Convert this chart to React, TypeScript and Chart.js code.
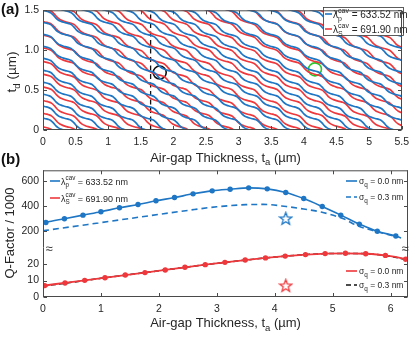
import React, { useEffect, useRef } from 'react';
import { Chart, registerables } from 'chart.js';
Chart.register(...registerables);

const FONT = '"Liberation Sans", Arial, Helvetica, sans-serif';
const TXT = '#262626';
const AXIS = '#4a4a4a';
const BLUE = 'rgb(30,118,196)';
const RED = 'rgb(238,56,60)';

// ---------- Panel (a) ----------
const aXTicks = [0, 0.5, 1, 1.5, 2, 2.5, 3, 3.5, 4, 4.5, 5, 5.5];
const aYTicks = [0, 0.5, 1, 1.5];
const bluePeriodTa = 0.3168; // λp/2 (µm)
const blueStepTd = 0.15;
const redPeriodTa = 0.346; // λs/2 (µm)
const redStepTd = 0.164;
// one wiggle period of a mode line (fraction of period)
const wiggleU = [0, 0.125, 0.25, 0.375, 0.5, 0.625, 0.75, 0.875, 1.0];
const wiggleV = [0, 0.056, 0.113, 0.2, 0.4, 0.65, 0.825, 0.925, 1.0];
const blueStarts = [-0.15, 0.0, 0.15, 0.3, 0.45, 0.6, 0.75, 0.9, 1.05, 1.2, 1.35, 1.5, 1.65, 1.8, 1.95, 2.1, 2.25, 2.4, 2.55, 2.7, 2.85, 3.0, 3.15, 3.3, 3.45, 3.6, 3.75, 3.9, 4.05, 4.2];
const redStarts = [-0.12, 0.04, 0.21, 0.37, 0.54, 0.7, 0.86, 1.03, 1.19, 1.36, 1.52, 1.68, 1.85, 2.01, 2.18, 2.34, 2.5, 2.67, 2.83, 3.0, 3.16, 3.32, 3.49, 3.65, 3.82, 3.98, 4.14, 4.31];
const dashLineTa = 1.65;
const blackCircle = { x: 1.79, y: 0.72 };
const greenCircle = { x: 4.17, y: 0.76 };

// ---------- Panel (b) ----------
const bXTicks = [0, 1, 2, 3, 4, 5, 6];
const qHighTicks = [200, 400, 600];
const qLowTicks = [0, 10, 20];
const blueSolidTa = [0, 0.05, 0.37, 0.69, 1.0, 1.32, 1.64, 1.95, 2.27, 2.59, 2.92, 3.23, 3.55, 3.87, 4.19, 4.5, 4.82, 5.14, 5.46, 5.77, 6.09, 6.18];
const blueSolidQ = [262, 269, 299, 328, 355, 387, 413, 443, 469, 499, 523, 536, 547, 539, 510, 461, 397, 328, 256, 198, 160, 145];
const blueDashTa = [0, 0.5, 1.0, 1.5, 2.0, 2.5, 3.0, 3.5, 3.8, 4.2, 4.5, 4.8, 5.2, 5.43, 5.77, 6.12];
const blueDashQ = [202, 235, 268, 301, 334, 366, 395, 412, 414, 397, 377, 353, 296, 242, 195, 152];
const redSolidTa = [0, 0.03, 0.38, 0.72, 1.07, 1.42, 1.76, 2.11, 2.45, 2.8, 3.14, 3.49, 3.84, 4.18, 4.53, 4.87, 5.22, 5.57, 5.91, 6.26, 6.3];
const redSolidQ = [6.6, 6.9, 8.5, 10.1, 11.7, 13.3, 14.8, 16.4, 18.0, 19.6, 21.0, 22.4, 23.7, 24.8, 25.7, 26.3, 26.5, 26.2, 25.2, 22.9, 22.5];
const blackDashTa = [0, 0.5, 1.0, 1.5, 2.0, 2.5, 3.0, 3.5, 4.0, 4.5, 5.0, 5.5, 6.0, 6.3];
const blackDashQ = [6.6, 8.9, 11.3, 13.6, 15.9, 18.2, 20.4, 22.4, 24.2, 25.6, 26.4, 26.3, 24.6, 22.4];
const starTa = 4.19;
const blueStarQ = 301;
const redStarQ = 6.9;

// ---------- helpers ----------
type Part = { t: string; s: number; dy?: number; bold?: boolean } | { sup: string; sub: string; s: number; supDy: number; subDy: number };

function font(s: number, bold?: boolean) {
  return `${bold ? 'bold ' : ''}${s}px ${FONT}`;
}
function richWidth(ctx: CanvasRenderingContext2D, parts: Part[]) {
  let w = 0;
  for (const p of parts) {
    if ('sup' in p) {
      ctx.font = font(p.s);
      w += Math.max(ctx.measureText(p.sup).width, ctx.measureText(p.sub).width);
    } else {
      ctx.font = font(p.s, p.bold);
      w += ctx.measureText(p.t).width;
    }
  }
  return w;
}
function drawRich(ctx: CanvasRenderingContext2D, x: number, y: number, parts: Part[], align: 'left' | 'center' = 'left', color = TXT) {
  ctx.save();
  ctx.fillStyle = color;
  ctx.textAlign = 'left';
  ctx.textBaseline = 'alphabetic';
  let cx = align === 'center' ? x - richWidth(ctx, parts) / 2 : x;
  for (const p of parts) {
    if ('sup' in p) {
      ctx.font = font(p.s);
      const w1 = ctx.measureText(p.sup).width;
      const w2 = ctx.measureText(p.sub).width;
      ctx.fillText(p.sup, cx, y + p.supDy);
      ctx.fillText(p.sub, cx, y + p.subDy);
      cx += Math.max(w1, w2);
    } else {
      ctx.font = font(p.s, p.bold);
      ctx.fillText(p.t, cx, y + (p.dy || 0));
      cx += ctx.measureText(p.t).width;
    }
  }
  ctx.restore();
}
function lambdaParts(sub: string, value: string, s: number): Part[] {
  return [
    { t: 'λ', s },
    { sup: 'cav', sub, s: s * 0.7, supDy: -s * 0.45, subDy: s * 0.32 },
    { t: ' = ' + value, s },
  ];
}
function sigmaParts(value: string, s: number): Part[] {
  return [{ t: 'σ', s }, { t: 'q', s: s * 0.75, dy: s * 0.3 }, { t: ' = ' + value, s }];
}
function legendLine(ctx: CanvasRenderingContext2D, x1: number, x2: number, y: number, color: string, dash: number[] = []) {
  ctx.save();
  ctx.strokeStyle = color;
  ctx.lineWidth = 1.6;
  ctx.setLineDash(dash);
  ctx.beginPath();
  ctx.moveTo(x1, y);
  ctx.lineTo(x2, y);
  ctx.stroke();
  ctx.restore();
}

function buildModeLine(startTd: number, periodTa: number, stepTd: number) {
  const pts: { x: number; y: number }[] = [];
  for (let j = -1; j < 60; j++) {
    const x0 = j * periodTa;
    const y0 = startTd - j * stepTd;
    if (x0 > 5.7 || y0 < -0.3) break;
    wiggleU.forEach((u, k) => {
      if (k === 0 && pts.length) return;
      pts.push({ x: x0 + u * periodTa, y: y0 - wiggleV[k] * stepTd });
    });
  }
  return pts;
}

function makeStar(color: string) {
  const c = document.createElement('canvas');
  c.width = 15;
  c.height = 15;
  const g = c.getContext('2d')!;
  g.strokeStyle = color;
  g.lineWidth = 1.3;
  g.beginPath();
  for (let i = 0; i < 10; i++) {
    const r = i % 2 === 0 ? 6.5 : 2.7;
    const a = -Math.PI / 2 + (i * Math.PI) / 5;
    const px = 7.5 + r * Math.cos(a);
    const py = 8 + r * Math.sin(a);
    if (i === 0) g.moveTo(px, py);
    else g.lineTo(px, py);
  }
  g.closePath();
  g.stroke();
  return c;
}

function framePlugin(id: string, sides: { top: boolean; bottom: boolean; left: boolean; right: boolean }) {
  return {
    id,
    afterDraw(chart: any) {
      const { ctx, chartArea } = chart;
      const L = Math.round(chartArea.left) + 0.5;
      const R = Math.round(chartArea.right) - 0.5;
      const T = chartArea.top + 0.5;
      const B = chartArea.bottom - 0.5;
      ctx.save();
      ctx.strokeStyle = AXIS;
      ctx.lineWidth = 1;
      ctx.beginPath();
      if (sides.left) { ctx.moveTo(L, chartArea.top); ctx.lineTo(L, chartArea.bottom); }
      if (sides.right) { ctx.moveTo(R, chartArea.top); ctx.lineTo(R, chartArea.bottom); }
      if (sides.top) { ctx.moveTo(L - 0.5, T); ctx.lineTo(R + 0.5, T); }
      if (sides.bottom) { ctx.moveTo(L - 0.5, B); ctx.lineTo(R + 0.5, B); }
      const xs = chart.scales.x;
      const ys = chart.scales.y;
      const tl = 3.5;
      for (const t of xs.ticks) {
        const px = Math.round(xs.getPixelForValue(t.value)) + 0.5;
        if (sides.bottom) { ctx.moveTo(px, B); ctx.lineTo(px, B - tl); }
        if (sides.top) { ctx.moveTo(px, T); ctx.lineTo(px, T + tl); }
      }
      for (const t of ys.ticks) {
        const py = Math.round(ys.getPixelForValue(t.value)) + 0.5;
        ctx.moveTo(L, py); ctx.lineTo(L + tl, py);
        ctx.moveTo(R, py); ctx.lineTo(R - tl, py);
      }
      ctx.stroke();
      ctx.restore();
    },
  };
}

function xyData(xs: number[], ys: number[]) {
  return xs.map((x, i) => ({ x, y: ys[i] }));
}

function tickFont(size = 10.5) {
  return { family: FONT, size };
}

// ---------- chart configs ----------
function configA(): any {
  const datasets: any[] = [];
  blueStarts.forEach((s) =>
    datasets.push({ data: buildModeLine(s, bluePeriodTa, blueStepTd), borderColor: BLUE, borderWidth: 1.7, showLine: true, pointRadius: 0, cubicInterpolationMode: 'monotone' })
  );
  redStarts.forEach((s) =>
    datasets.push({ data: buildModeLine(s, redPeriodTa, redStepTd), borderColor: RED, borderWidth: 1.7, showLine: true, pointRadius: 0, cubicInterpolationMode: 'monotone' })
  );
  datasets.push({ data: [{ x: dashLineTa, y: 0 }, { x: dashLineTa, y: 1.5 }], borderColor: '#111', borderWidth: 1.3, borderDash: [5, 3.5], showLine: true, pointRadius: 0 });
  datasets.push({ data: [blackCircle], showLine: false, pointStyle: 'circle', pointRadius: 6.5, borderWidth: 1.6, borderColor: '#111', backgroundColor: 'rgba(0,0,0,0)' });
  datasets.push({ data: [greenCircle], showLine: false, pointStyle: 'circle', pointRadius: 6.5, borderWidth: 1.6, borderColor: 'rgb(40,200,40)', backgroundColor: 'rgba(0,0,0,0)' });

  const overlay = {
    id: 'overlayA',
    afterDatasetsDraw(chart: any) {
      const ctx = chart.ctx as CanvasRenderingContext2D;
      ctx.save();
      ctx.fillStyle = '#fff';
      ctx.strokeStyle = '#333';
      ctx.lineWidth = 0.8;
      ctx.fillRect(323, 7, 81, 29);
      ctx.strokeRect(323.5, 7.5, 80, 28);
      ctx.restore();
      legendLine(ctx, 325, 332, 14, BLUE);
      drawRich(ctx, 333, 17.5, lambdaParts('p', '633.52 nm', 10));
      legendLine(ctx, 325, 332, 29, RED);
      drawRich(ctx, 333, 32.5, lambdaParts('S', '691.90 nm', 10));
    },
    afterDraw(chart: any) {
      const ctx = chart.ctx as CanvasRenderingContext2D;
      drawRich(ctx, 1, 14, [{ t: '(a)', s: 15, bold: true }], 'left', '#111');
      drawRich(ctx, 1, 164, [{ t: '(b)', s: 15, bold: true }], 'left', '#111');
      drawRich(ctx, 225.5, 161.5, [{ t: 'Air-gap Thickness, t', s: 13 }, { t: 'a', s: 9.5, dy: 3.5 }, { t: ' (µm)', s: 13 }], 'center');
      ctx.save();
      ctx.translate(16, 72);
      ctx.rotate(-Math.PI / 2);
      drawRich(ctx, 0, 0, [{ t: 't', s: 13.5 }, { t: 'd', s: 9.5, dy: 3.5 }, { t: ' (µm)', s: 13.5 }], 'center');
      ctx.restore();
    },
  };

  return {
    type: 'scatter',
    data: { datasets },
    options: {
      responsive: false,
      animation: false,
      events: [],
      layout: { padding: { left: 0, right: 7, top: 5, bottom: 0 } },
      plugins: { legend: { display: false }, tooltip: { enabled: false } },
      scales: {
        x: {
          type: 'linear', min: 0, max: 5.5,
          afterBuildTicks: (s: any) => { s.ticks = aXTicks.map((v) => ({ value: v })); },
          afterFit: (s: any) => { s.height = 40; },
          ticks: { font: tickFont(), color: TXT, padding: 6, maxRotation: 0, autoSkip: false, callback: (v: any) => (v === 0 ? '0' : String(v)) },
          grid: { display: false, drawTicks: false },
          border: { display: false },
        },
        y: {
          type: 'linear', min: 0, max: 1.5,
          afterBuildTicks: (s: any) => { s.ticks = aYTicks.map((v) => ({ value: v })); },
          afterFit: (s: any) => { s.width = 43; },
          ticks: { font: tickFont(), color: TXT, padding: 4, autoSkip: false, callback: (v: any) => (v === 0 ? '0' : Number(v).toFixed(1)) },
          grid: { display: false, drawTicks: false },
          border: { display: false },
        },
      },
    },
    plugins: [framePlugin('frameA', { top: true, bottom: true, left: true, right: true }), overlay],
  };
}

function configBHigh(): any {
  const blueStar = makeStar(BLUE);
  const n = blueSolidTa.length;
  const datasets: any[] = [
    { data: xyData(blueDashTa, blueDashQ), borderColor: BLUE, borderWidth: 1.6, borderDash: [6, 4], showLine: true, pointRadius: 0, cubicInterpolationMode: 'monotone' },
    {
      data: xyData(blueSolidTa, blueSolidQ), borderColor: BLUE, backgroundColor: BLUE, borderWidth: 1.6, showLine: true,
      pointRadius: (c: any) => (c.dataIndex === 0 || c.dataIndex === n - 1 ? 0 : 2.7), pointBorderWidth: 0, cubicInterpolationMode: 'monotone',
    },
    { data: [{ x: starTa, y: blueStarQ }], showLine: false, pointStyle: blueStar, pointRadius: 6 },
  ];
  const overlay = {
    id: 'overlayBH',
    afterDatasetsDraw(chart: any) {
      const ctx = chart.ctx as CanvasRenderingContext2D;
      const o = -160;
      legendLine(ctx, 50, 60, 181 + o, BLUE);
      drawRich(ctx, 61, 184.5 + o, lambdaParts('p', '633.52 nm', 9));
      legendLine(ctx, 50, 60, 198 + o, RED);
      drawRich(ctx, 61, 201.5 + o, lambdaParts('S', '691.90 nm', 9));
      legendLine(ctx, 346, 357, 181 + o, BLUE);
      drawRich(ctx, 359, 184 + o, sigmaParts('0.0 nm', 8.5));
      legendLine(ctx, 346, 357, 197 + o, BLUE, [5, 3]);
      drawRich(ctx, 359, 200 + o, sigmaParts('0.3 nm', 8.5));
    },
  };
  return {
    type: 'scatter',
    data: { datasets },
    options: {
      responsive: false,
      animation: false,
      events: [],
      layout: { padding: { left: 0, right: 7, top: 10, bottom: 90.5 } },
      plugins: { legend: { display: false }, tooltip: { enabled: false } },
      scales: {
        x: {
          type: 'linear', min: 0, max: 6.3, display: false,
          afterBuildTicks: (s: any) => { s.ticks = bXTicks.map((v) => ({ value: v })); },
        },
        y: {
          type: 'linear', min: 68, max: 688,
          afterBuildTicks: (s: any) => { s.ticks = qHighTicks.map((v) => ({ value: v })); },
          afterFit: (s: any) => { s.width = 43; },
          ticks: { font: tickFont(), color: TXT, padding: 4, autoSkip: false },
          grid: { display: false, drawTicks: false },
          border: { display: false },
        },
      },
    },
    plugins: [framePlugin('frameBH', { top: true, bottom: false, left: true, right: true }), overlay],
  };
}

function configBLow(): any {
  const redStar = makeStar(RED);
  const datasets: any[] = [
    { data: xyData(redSolidTa, redSolidQ), borderColor: RED, backgroundColor: RED, borderWidth: 1.8, showLine: true,
      pointRadius: (c: any) => (c.dataIndex === 0 || c.dataIndex === redSolidTa.length - 1 ? 0 : 2.7), pointBorderWidth: 0, cubicInterpolationMode: 'monotone' },
    { data: xyData(blackDashTa, blackDashQ), borderColor: '#111', borderWidth: 1.5, borderDash: [5, 3], showLine: true, pointRadius: 0, cubicInterpolationMode: 'monotone' },
    { data: [{ x: starTa, y: redStarQ }], showLine: false, pointStyle: redStar, pointRadius: 6 },
  ];
  const overlay = {
    id: 'overlayBL',
    afterDatasetsDraw(chart: any) {
      const ctx = chart.ctx as CanvasRenderingContext2D;
      const o = -160;
      legendLine(ctx, 346, 357, 271 + o, RED);
      drawRich(ctx, 359, 274 + o, sigmaParts('0.0 nm', 8.5));
      legendLine(ctx, 346, 357, 285 + o, '#111', [5, 3]);
      drawRich(ctx, 359, 288 + o, sigmaParts('0.3 nm', 8.5));
    },
    afterDraw(chart: any) {
      const ctx = chart.ctx as CanvasRenderingContext2D;
      const o = -160;
      drawRich(ctx, 225.5, 327 + o, [{ t: 'Air-gap Thickness, t', s: 13 }, { t: 'a', s: 9.5, dy: 3.5 }, { t: ' (µm)', s: 13 }], 'center');
      ctx.save();
      ctx.translate(14, 233 + o);
      ctx.rotate(-Math.PI / 2);
      drawRich(ctx, 0, 0, [{ t: 'Q-Factor / 1000', s: 13 }], 'center');
      ctx.restore();
      ctx.save();
      ctx.fillStyle = '#333';
      ctx.font = font(13);
      ctx.textAlign = 'center';
      ctx.textBaseline = 'middle';
      ctx.fillText('≈', 49, 249 + o);
      ctx.fillText('≈', 405, 249 + o);
      ctx.restore();
    },
  };
  return {
    type: 'scatter',
    data: { datasets },
    options: {
      responsive: false,
      animation: false,
      events: [],
      layout: { padding: { left: 0, right: 7, top: 87.5, bottom: 0 } },
      plugins: { legend: { display: false }, tooltip: { enabled: false } },
      scales: {
        x: {
          type: 'linear', min: 0, max: 6.3,
          afterBuildTicks: (s: any) => { s.ticks = bXTicks.map((v) => ({ value: v })); },
          afterFit: (s: any) => { s.height = 41; },
          ticks: { font: tickFont(), color: TXT, padding: 6, maxRotation: 0, autoSkip: false },
          grid: { display: false, drawTicks: false },
          border: { display: false },
        },
        y: {
          type: 'linear', min: 0, max: 30,
          afterBuildTicks: (s: any) => { s.ticks = qLowTicks.map((v) => ({ value: v })); },
          afterFit: (s: any) => { s.width = 43; },
          ticks: { font: tickFont(), color: TXT, padding: 4, autoSkip: false },
          grid: { display: false, drawTicks: false },
          border: { display: false },
        },
      },
    },
    plugins: [framePlugin('frameBL', { top: false, bottom: true, left: true, right: true }), overlay],
  };
}

export default function App() {
  const aRef = useRef<HTMLCanvasElement>(null);
  const bHiRef = useRef<HTMLCanvasElement>(null);
  const bLoRef = useRef<HTMLCanvasElement>(null);

  useEffect(() => {
    const charts = [
      new Chart(aRef.current!, configA()),
      new Chart(bHiRef.current!, configBHigh()),
      new Chart(bLoRef.current!, configBLow()),
    ];
    return () => charts.forEach((c) => c.destroy());
  }, []);

  return (
    <div style={{ position: 'absolute', left: 0, top: 0, width: 415, height: 338, background: '#fff', overflow: 'hidden' }}>
      <canvas ref={aRef} width={415} height={170} style={{ position: 'absolute', left: 0, top: 0 }} />
      <canvas ref={bHiRef} width={415} height={178} style={{ position: 'absolute', left: 0, top: 160 }} />
      <canvas ref={bLoRef} width={415} height={178} style={{ position: 'absolute', left: 0, top: 160 }} />
    </div>
  );
}
